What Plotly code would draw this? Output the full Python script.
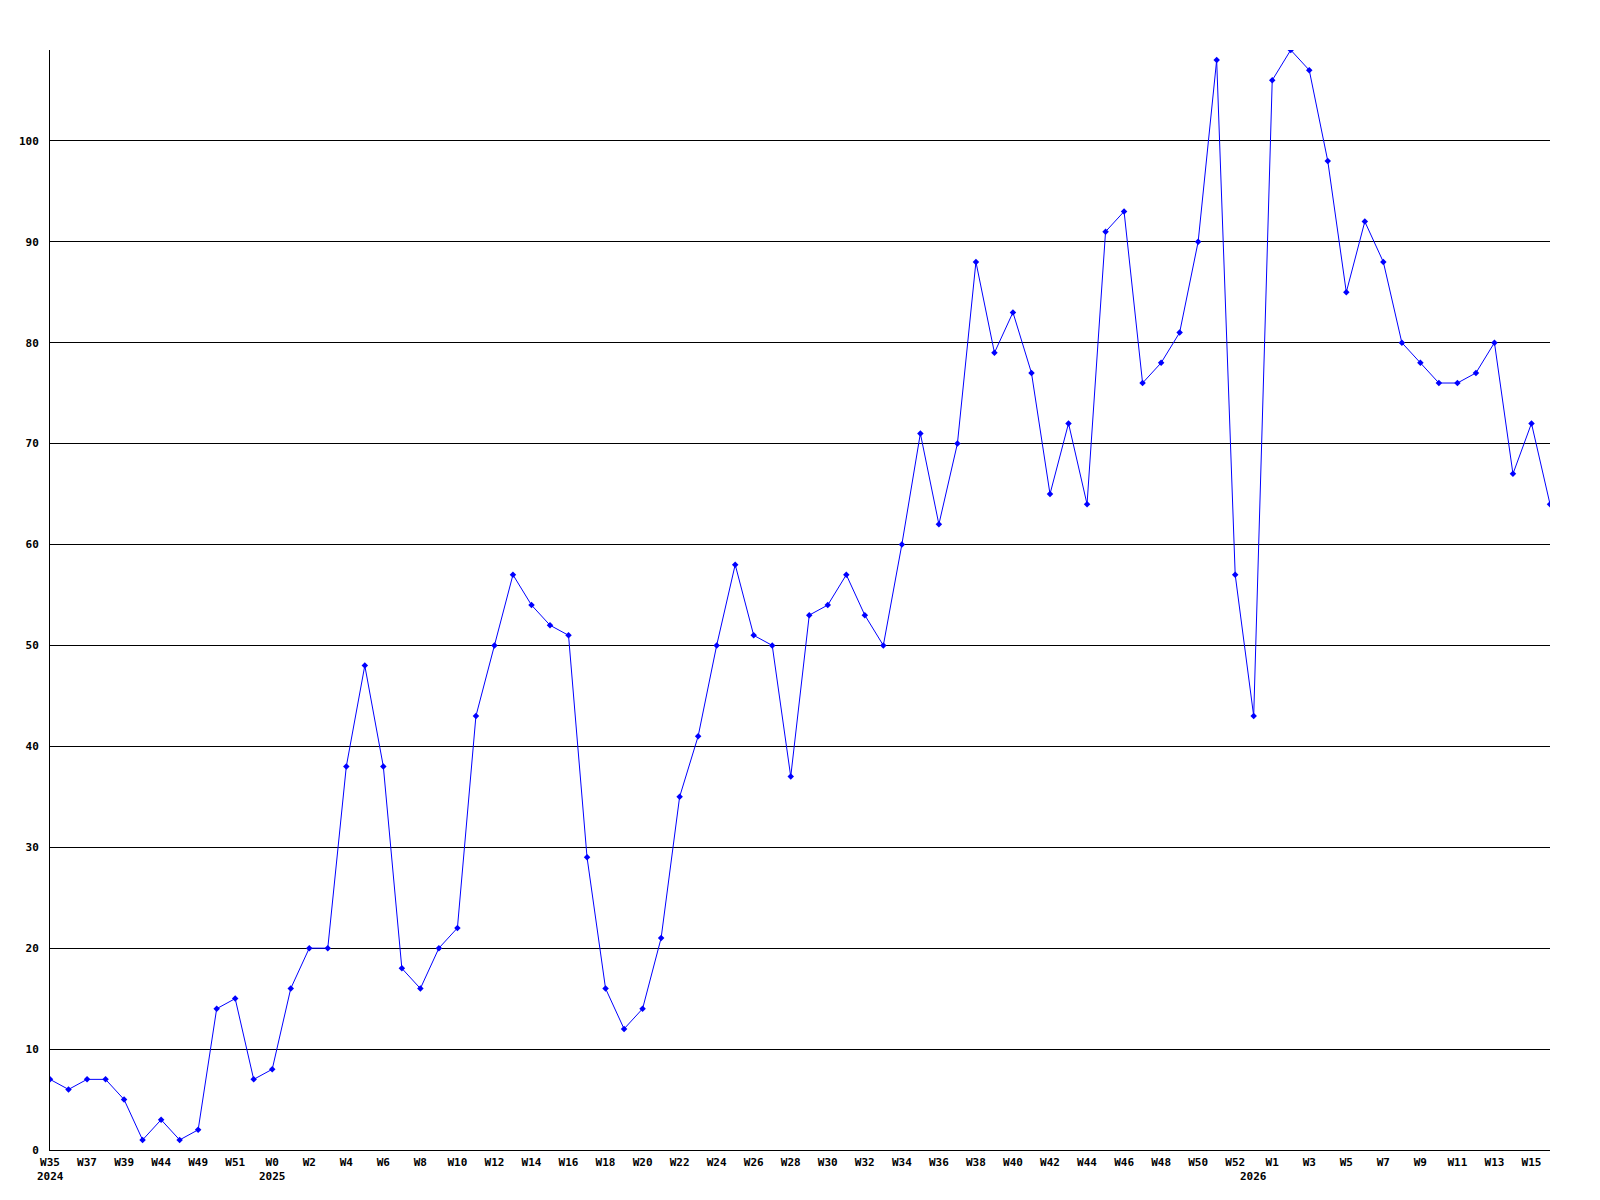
import plotly.graph_objects as go

weeks = ["W35", "W36", "W37", "W38", "W39", "W42", "W44", "W47", "W49", "W50", "W51", "W52",
         "W0", "W1", "W2", "W3", "W4", "W5", "W6", "W7", "W8", "W9", "W10", "W11", "W12", "W13",
         "W14", "W15", "W16", "W17", "W18", "W19", "W20", "W21", "W22", "W23", "W24", "W25",
         "W26", "W27", "W28", "W29", "W30", "W31", "W32", "W33", "W34", "W35", "W36", "W37",
         "W38", "W39", "W40", "W41", "W42", "W43", "W44", "W45", "W46", "W47", "W48", "W49",
         "W50", "W51", "W52",
         "W0", "W1", "W2", "W3", "W4", "W5", "W6", "W7", "W8", "W9", "W10", "W11", "W12",
         "W13", "W14", "W15", "W16"]

values = [7, 6, 7, 7, 5, 1, 3, 1, 2, 14, 15, 7,
          8, 16, 20, 20, 38, 48, 38, 18, 16, 20, 22, 43, 50, 57,
          54, 52, 51, 29, 16, 12, 14, 21, 35, 41, 50, 58,
          51, 50, 37, 53, 54, 57, 53, 50, 60, 71, 62, 70,
          88, 79, 83, 77, 65, 72, 64, 91, 93, 76, 78, 81,
          90, 108, 57,
          43, 106, 109, 107, 98, 85, 92, 88, 80, 78, 76, 76, 77,
          80, 67, 72, 64]

year_labels = ["2024", "2025", "2026"]

# index positions of year starts
year_idx = [0, weeks.index("W0"), len(weeks) - 1 - weeks[::-1].index("W0")]

idx = list(range(len(values)))

fnt = dict(family="DejaVu Sans Mono", size=11, color="black", weight="bold")

fig = go.Figure()
fig.add_trace(go.Scatter(
    x=idx, y=values, mode="lines+markers",
    line=dict(color="#0000ff", width=1),
    marker=dict(symbol="diamond", size=5, color="#0000ff"),
    cliponaxis=True,
    hoverinfo="skip",
))

tickvals = [i for i in idx if i % 2 == 0]
ticktext = [weeks[i] for i in tickvals]

for lbl, i in zip(year_labels, year_idx):
    fig.add_annotation(x=i, y=0, xref="x", yref="paper", text=lbl, showarrow=False,
                       yanchor="top", yshift=-18, font=fnt)

fig.update_layout(
    width=1600, height=1200,
    margin=dict(l=50, r=50, t=50, b=50),
    paper_bgcolor="white", plot_bgcolor="white",
    showlegend=False,
    xaxis=dict(range=[0, len(values) - 1], tickvals=tickvals, ticktext=ticktext,
               showgrid=False, zeroline=False, showline=True, linecolor="black", linewidth=1,
               ticks="", tickfont=fnt, ticklabelstandoff=2, tickangle=0),
    yaxis=dict(range=[0, 109], tickvals=list(range(0, 101, 10)),
               showgrid=True, gridcolor="black", gridwidth=1, zeroline=False,
               showline=True, linecolor="black", linewidth=1,
               ticks="", tickfont=fnt, ticklabelstandoff=8),
)

fig.write_html("out.html", config={"displayModeBar": False, "staticPlot": True})

with open("out.html", "r", encoding="utf-8") as f:
    html = f.read()
html = html.replace("<head>", "<head><style>html,body{margin:0;padding:0;}</style>", 1)
with open("out.html", "w", encoding="utf-8") as f:
    f.write(html)
